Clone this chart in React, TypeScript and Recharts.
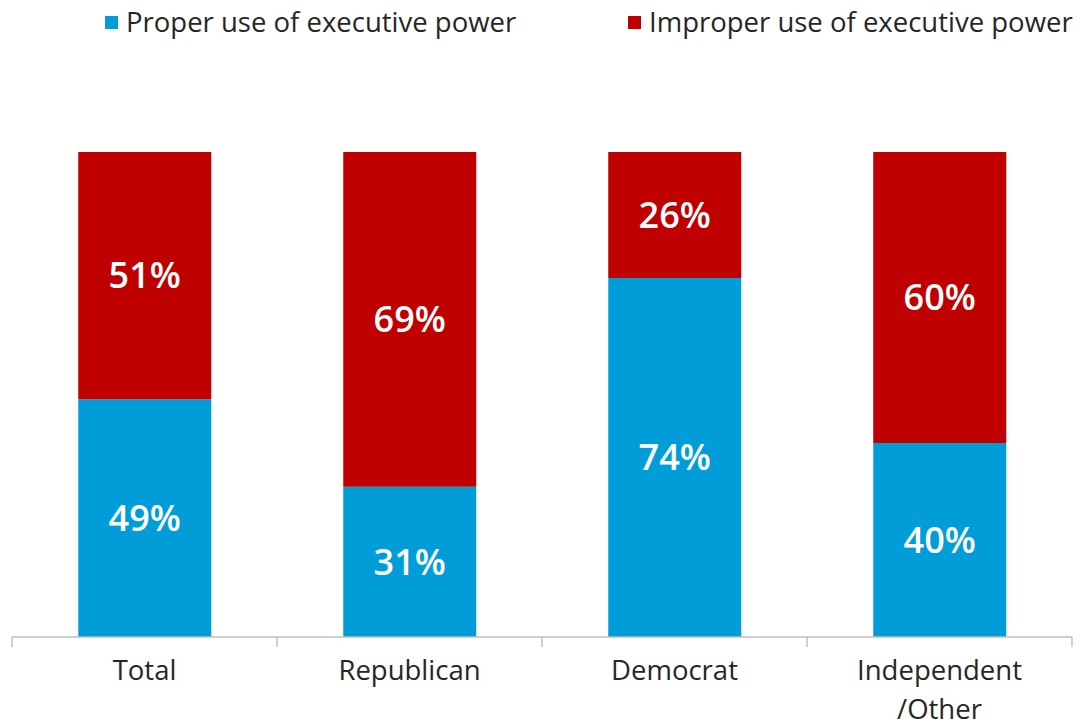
import React from 'react'
import { BarChart, Bar, XAxis, YAxis, LabelList } from 'recharts'

// category labels and series values
const categories = ['Total', 'Republican', 'Democrat', 'Independent\n/Other']
const properUse = [49, 31, 74, 40]
const improperUse = [51, 69, 26, 60]
const boundaryTicks = [0, 1, 2, 3, 4]

const BLUE = '#009DD9'
const RED = '#C00000'
const FONT = '"Open Sans", sans-serif'

const data = categories.map((name, i) => ({
  name,
  idx: i + 0.5,
  proper: properUse[i],
  improper: improperUse[i],
}))

const CategoryTick = (props: any) => {
  const { x, y, payload } = props
  const lines = String(payload.value).split('\n')
  return (
    <g transform={`translate(${x},${y})`}>
      {lines.map((line, i) => (
        <text
          key={i}
          x={0}
          y={34 + i * 39}
          textAnchor="middle"
          fill="#262626"
          fontSize={27.5}
          fontFamily={FONT}
        >
          {line}
        </text>
      ))}
    </g>
  )
}

const EmptyTick = () => <g />

const pct = (v: any) => `${v}%`

function LegendItem({ color, label, left }: { color: string; label: string; left: number }) {
  return (
    <div style={{ position: 'absolute', left, top: 3, display: 'flex', alignItems: 'center' }}>
      <span style={{ display: 'inline-block', width: 13, height: 13, background: color, marginRight: 8 }} />
      <span style={{ fontSize: 27.5, color: '#262626', fontFamily: FONT, lineHeight: '38px' }}>{label}</span>
    </div>
  )
}

export default function App() {
  return (
    <div style={{ position: 'relative', width: 1089, height: 726, background: '#fff' }}>
      <style>{`body{margin:0}`}</style>
      <LegendItem color={BLUE} label="Proper use of executive power" left={105} />
      <LegendItem color={RED} label="Improper use of executive power" left={628} />
      <BarChart
        width={1089}
        height={726}
        data={data}
        margin={{ top: 152, right: 17, left: 12, bottom: 0 }}
        barCategoryGap="25%"
      >
        {/* boundary ticks between categories */}
        <XAxis
          xAxisId="a"
          type="number"
          dataKey="idx"
          domain={[0, 4]}
          ticks={boundaryTicks}
          tick={<EmptyTick />}
          tickSize={10}
          tickLine={{ stroke: '#BFBFBF', strokeWidth: 1.5 }}
          axisLine={{ stroke: '#BFBFBF', strokeWidth: 1.5 }}
          height={1}
        />
        <XAxis
          dataKey="name"
          xAxisId="b"
          interval={0}
          tickLine={false}
          axisLine={false}
          tick={<CategoryTick />}
          height={88}
        />
        <YAxis domain={[0, 100]} hide />
        <Bar dataKey="proper" xAxisId="b" stackId="a" fill={BLUE} isAnimationActive={false}>
          <LabelList dataKey="proper" position="center" formatter={pct} fill="#fff" fontSize={36} fontWeight={600} fontFamily={FONT} />
        </Bar>
        <Bar dataKey="improper" xAxisId="b" stackId="a" fill={RED} isAnimationActive={false}>
          <LabelList dataKey="improper" position="center" formatter={pct} fill="#fff" fontSize={36} fontWeight={600} fontFamily={FONT} />
        </Bar>
      </BarChart>
    </div>
  )
}
